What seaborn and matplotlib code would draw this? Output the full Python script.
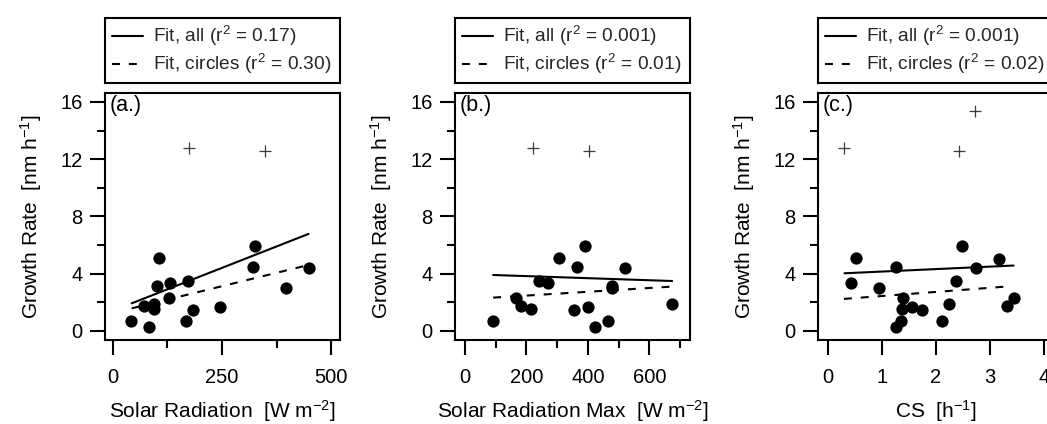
import numpy as np
import pandas as pd
import matplotlib
matplotlib.use("Agg")
import matplotlib.pyplot as plt
import seaborn as sns
from matplotlib.lines import Line2D
from matplotlib.ticker import MultipleLocator

# ---------------- data ----------------
# Panel (a): Solar radiation
sr_circ_x = [41, 71, 83, 95, 94, 102, 106, 131, 129, 171, 167, 183, 245, 320, 326, 397, 450]
sr_circ_y = [0.72, 1.75, 0.26, 1.89, 1.52, 3.14, 5.12, 3.38, 2.33, 3.49, 0.72, 1.47, 1.65, 4.50, 5.90, 2.98, 4.43]
sr_plus_x = [174, 349]
sr_plus_y = [12.77, 12.60]
sr_fit_x = [43, 448]
sr_fit_all_y = [1.93, 6.78]
sr_fit_circ_y = [1.58, 4.61]

# Panel (b): Solar radiation max
srm_circ_x = [92, 165, 184, 215, 242, 269, 305, 354, 364, 392, 401, 424, 464, 477, 479, 520, 674]
srm_circ_y = [0.72, 2.33, 1.75, 1.52, 3.49, 3.38, 5.12, 1.47, 4.50, 5.90, 1.65, 0.26, 0.72, 3.14, 2.98, 4.43, 1.89]
srm_plus_x = [220, 404]
srm_plus_y = [12.77, 12.60]
srm_fit_x = [92, 674]
srm_fit_all_y = [3.91, 3.49]
srm_fit_circ_y = [2.33, 3.10]

# Panel (c): CS
cs_circ_x = [0.44, 0.52, 0.94, 1.27, 1.26, 1.36, 1.38, 1.39, 1.56, 1.75, 2.12, 2.24, 2.38, 2.49, 2.74, 3.17, 3.32, 3.44]
cs_circ_y = [3.38, 5.12, 2.98, 4.50, 0.26, 0.72, 1.52, 2.33, 1.65, 1.47, 0.72, 1.89, 3.49, 5.90, 4.43, 5.00, 1.75, 2.28]
cs_plus_x = [0.31, 2.43, 2.72]
cs_plus_y = [12.77, 12.60, 15.33]
cs_fit_all_x = [0.31, 3.44]
cs_fit_all_y = [4.03, 4.57]
cs_fit_circ_x = [0.30, 3.30]
cs_fit_circ_y = [2.24, 3.10]

legend_r2_all = ["0.17", "0.001", "0.001"]
legend_r2_circ = ["0.30", "0.01", "0.02"]
panel_labels = ["(a.)", "(b.)", "(c.)"]
x_labels = ["Solar Radiation  [W m$^{-2}$]", "Solar Radiation Max  [W m$^{-2}$]", "CS  [h$^{-1}$]"]
y_label = "Growth Rate  [nm h$^{-1}$]"

# ---------------- style ----------------
sns.set_theme(style="white")
plt.rcParams["font.family"] = ["Liberation Sans", "DejaVu Sans"]
plt.rcParams["mathtext.fontset"] = "custom"
plt.rcParams["mathtext.rm"] = "Liberation Sans"
plt.rcParams["mathtext.it"] = "Liberation Sans:italic"
plt.rcParams["mathtext.bf"] = "Liberation Sans:bold"
plt.rcParams["axes.linewidth"] = 1.5

FS_TICK = 14.5
FS_LABEL = 15
FS_LEG = 13.8
FS_PANEL = 15.5
DASH = (0, (3.8, 4.3))

fig = plt.figure(figsize=(10.47, 4.24), dpi=100)
lefts = [105 / 1047, 455 / 1047, 818 / 1047]
W = 235 / 1047
B = (424 - 340) / 424
H = 247 / 424

panels = [
    dict(cx=sr_circ_x, cy=sr_circ_y, px=sr_plus_x, py=sr_plus_y,
         fax=sr_fit_x, fay=sr_fit_all_y, fcx=sr_fit_x, fcy=sr_fit_circ_y,
         xlim=(-18, 520), major=250, minor=125),
    dict(cx=srm_circ_x, cy=srm_circ_y, px=srm_plus_x, py=srm_plus_y,
         fax=srm_fit_x, fay=srm_fit_all_y, fcx=srm_fit_x, fcy=srm_fit_circ_y,
         xlim=(-32, 732), major=200, minor=100),
    dict(cx=cs_circ_x, cy=cs_circ_y, px=cs_plus_x, py=cs_plus_y,
         fax=cs_fit_all_x, fay=cs_fit_all_y, fcx=cs_fit_circ_x, fcy=cs_fit_circ_y,
         xlim=(-0.18, 4.17), major=1, minor=None),
]

for i, p in enumerate(panels):
    ax = fig.add_axes([lefts[i], B, W, H])
    sns.scatterplot(x=p["cx"], y=p["cy"], ax=ax, color="black", s=78,
                    edgecolor="black", linewidth=0, zorder=3)
    sns.scatterplot(x=p["px"], y=p["py"], ax=ax, color="#3a3a3a", marker="+",
                    s=75, linewidth=0.9, zorder=3)
    sns.lineplot(x=p["fax"], y=p["fay"], ax=ax, color="black", lw=1.5,
                 estimator=None, zorder=2)
    sns.lineplot(x=p["fcx"], y=p["fcy"], ax=ax, color="black", lw=1.5,
                 linestyle=DASH, estimator=None, zorder=2)

    ax.set_xlim(*p["xlim"])
    ax.set_ylim(-0.63, 16.62)
    ax.yaxis.set_major_locator(MultipleLocator(4))
    ax.yaxis.set_minor_locator(MultipleLocator(2))
    ax.xaxis.set_major_locator(MultipleLocator(p["major"]))
    if p["minor"]:
        ax.xaxis.set_minor_locator(MultipleLocator(p["minor"]))
    ax.tick_params(axis="both", which="major", direction="out", length=11,
                   width=1.5, labelsize=FS_TICK, color="black", labelcolor="black")
    ax.tick_params(axis="both", which="minor", direction="out", length=6,
                   width=1.5, color="black")
    ax.tick_params(axis="x", which="major", pad=9)
    ax.tick_params(axis="y", which="major", pad=5)
    ax.tick_params(bottom=True, left=True, which="both")
    for sp in ax.spines.values():
        sp.set_color("black")
        sp.set_linewidth(1.5)
    ax.grid(False)

    ax.set_xlabel(x_labels[i], fontsize=FS_LABEL, labelpad=8, color="black")
    ax.set_ylabel(y_label, fontsize=FS_LABEL, labelpad=12, color="black")
    ax.text(0.02, 0.99, panel_labels[i], transform=ax.transAxes,
            fontsize=FS_PANEL, va="top", ha="left", color="black")

    handles = [Line2D([], [], color="black", lw=1.5),
               Line2D([], [], color="black", lw=1.5, linestyle=DASH)]
    labels = [f"Fit, all (r$^{{2}}$ = {legend_r2_all[i]})",
              f"Fit, circles (r$^{{2}}$ = {legend_r2_circ[i]})"]
    leg = ax.legend(handles, labels, loc="lower left",
                    bbox_to_anchor=(0, 1.04, 1, 0.283), mode="expand",
                    borderaxespad=0, fontsize=FS_LEG, frameon=True,
                    fancybox=False, framealpha=1, edgecolor="black",
                    handlelength=1.65, handletextpad=0.5, labelspacing=0.2,
                    borderpad=0.35)
    leg.get_frame().set_linewidth(1.5)

fig.savefig("out.png", dpi=100)
